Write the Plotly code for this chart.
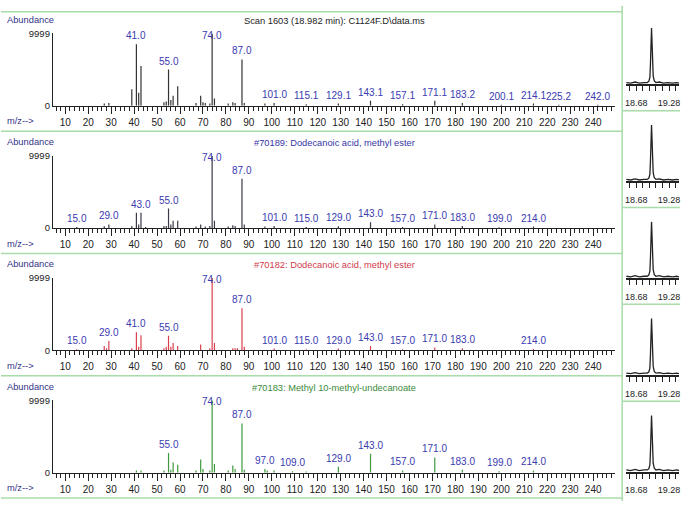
import plotly.graph_objects as go

W, H = 681, 506

# ---------------- data ----------------
# Panel 1: Scan 1603 (sample spectrum)
mz1 = [27, 29, 39, 41, 42, 43, 53, 54, 55, 56, 57, 59, 67, 69, 70, 71, 73, 74, 75, 81, 83, 84,
       87, 88, 97, 101, 115, 129, 143, 157, 171, 183, 200, 214, 225, 242]
ab1 = [300, 400, 2300, 8500, 1800, 5500, 500, 600, 5000, 800, 1400, 2700, 400, 1400, 500, 400, 300,
       9999, 1000, 300, 500, 400, 6400, 400, 300, 400, 200, 300, 700, 200, 700, 400, 150, 300, 150, 150]
lab1_mz = [41, 55, 74, 87, 101, 115, 129, 143, 157, 171, 183, 200, 214, 225, 242]
lab1_txt = ["41.0", "55.0", "74.0", "87.0", "101.0", "115.1", "129.1", "143.1", "157.1", "171.1",
            "183.2", "200.1", "214.1", "225.2", "242.0"]

# Panel 2: #70189 Dodecanoic acid, methyl ester
mz2 = [15, 27, 29, 39, 41, 42, 43, 45, 53, 54, 55, 56, 57, 59, 67, 69, 71, 73, 74, 75, 81, 83, 84,
       87, 88, 97, 101, 115, 129, 143, 157, 171, 183, 199, 214]
ab2 = [150, 250, 500, 300, 2100, 500, 2100, 150, 300, 300, 2700, 500, 1000, 1000, 200, 500, 200, 300,
       9999, 1000, 200, 400, 300, 6800, 500, 200, 300, 150, 250, 800, 150, 500, 300, 100, 200]
lab2_mz = [15, 29, 43, 55, 74, 87, 101, 115, 129, 143, 157, 171, 183, 199, 214]
lab2_txt = ["15.0", "29.0", "43.0", "55.0", "74.0", "87.0", "101.0", "115.0", "129.0", "143.0",
            "157.0", "171.0", "183.0", "199.0", "214.0"]

# Panel 3: #70182 Dodecanoic acid, methyl ester
mz3 = [15, 27, 28, 29, 39, 41, 42, 43, 53, 54, 55, 56, 57, 59, 69, 73, 74, 75, 83, 84, 85, 87, 88,
       101, 115, 129, 143, 157, 171, 183, 214]
ab3 = [150, 600, 300, 1300, 300, 2500, 500, 2100, 300, 500, 2000, 500, 1000, 600, 800, 300, 9999,
       1000, 300, 300, 300, 5800, 500, 250, 150, 250, 600, 150, 400, 300, 200]
lab3_mz = [15, 29, 41, 55, 74, 87, 101, 115, 129, 143, 157, 171, 183, 214]
lab3_txt = ["15.0", "29.0", "41.0", "55.0", "74.0", "87.0", "101.0", "115.0", "129.0", "143.0",
            "157.0", "171.0", "183.0", "214.0"]

# Panel 4: #70183 Methyl 10-methyl-undecanoate
mz4 = [41, 43, 53, 55, 56, 57, 59, 67, 69, 70, 73, 74, 75, 81, 83, 84, 87, 88, 97, 98, 101, 109,
       115, 129, 143, 157, 171, 183, 199, 214]
ab4 = [300, 300, 300, 2700, 400, 1400, 1100, 300, 1800, 500, 300, 9999, 1200, 300, 1000, 500, 6800,
       400, 500, 300, 300, 200, 150, 800, 2600, 300, 2100, 400, 200, 300]
lab4_mz = [55, 74, 87, 97, 109, 129, 143, 157, 171, 183, 199, 214]
lab4_txt = ["55.0", "74.0", "87.0", "97.0", "109.0", "129.0", "143.0", "157.0", "171.0", "183.0",
            "199.0", "214.0"]

titles = ["Scan 1603 (18.982 min): C1124F.D\\data.ms",
          "#70189: Dodecanoic acid, methyl ester",
          "#70182: Dodecanoic acid, methyl ester",
          "#70183: Methyl 10-methyl-undecanoate"]

# Chromatogram (ion trace) shown at the right of each row
chrom_t = [18.50, 18.58, 18.66, 18.74, 18.82, 18.88, 18.91, 18.93, 18.94, 18.95, 18.96, 18.97,
           18.98, 18.99, 19.01, 19.04, 19.10, 19.18, 19.26, 19.34, 19.42, 19.46]
chrom_i = [3, 2, 4, 2, 3, 3, 5, 12, 35, 75, 100, 72, 38, 15, 6, 3, 4, 2, 3, 2, 3, 2]
chrom_ticks = [18.56, 18.68, 18.80, 18.92, 19.04, 19.16, 19.28, 19.40]
chrom_ticktext = ["", "18.68", "", "", "", "", "19.28", ""]

# ---------------- styling ----------------
FONT = "Liberation Sans, Arial, sans-serif"
title_colors = ["#222222", "#3535a8", "#d03a4a", "#3a8a3a"]
bar_colors = ["#333333", "#3a3a4a", "#d8404e", "#3f9a3f"]
label_color = "#3a3ab0"
green = "#a8dca8"

panels = [(mz1, ab1, lab1_mz, lab1_txt), (mz2, ab2, lab2_mz, lab2_txt),
          (mz3, ab3, lab3_mz, lab3_txt), (mz4, ab4, lab4_mz, lab4_txt)]


def py(p):
    return 1 - p / H


fig = go.Figure()
layout = {}
annotations = []
shapes = []

for k, (mz, ab, lmz, ltxt) in enumerate(panels):
    n = k + 1
    xs, ys = [], []
    for m, a in zip(mz, ab):
        xs += [m, m, None]
        ys += [0, a, None]
    fig.add_trace(go.Scatter(x=xs, y=ys, mode="lines",
                             line=dict(color=bar_colors[k], width=1.2),
                             xaxis=f"x{n}", yaxis=f"y{n}",
                             hoverinfo="skip", showlegend=False))
    top = 28 + 125 * k
    bot = 102 + 125 * k
    layout[f"xaxis{n}"] = dict(
        domain=[52 / W, 616 / W], range=[4.6, 249.6], anchor=f"y{n}",
        tickmode="linear", tick0=0, dtick=10, ticks="outside", ticklen=7,
        tickcolor="#222", tickwidth=1,
        minor=dict(dtick=2, tick0=0, ticks="outside", ticklen=4, tickcolor="#222"),
        showline=True, linecolor="#222", linewidth=1, showgrid=False, zeroline=False,
        tickfont=dict(family=FONT, size=10, color="#222"), fixedrange=True)
    layout[f"yaxis{n}"] = dict(
        domain=[py(bot), py(top)], range=[0, 9999], anchor=f"x{n}",
        tickmode="array", tickvals=[0, 9999], ticktext=["0", "9999"], ticks="",
        showline=True, linecolor="#222", linewidth=1, showgrid=False, zeroline=False,
        tickfont=dict(family=FONT, size=9.5, color="#222"), fixedrange=True)
    abund = dict(zip(mz, ab))
    for m, t in zip(lmz, ltxt):
        yv = min(abund.get(m, 0), 8600)
        yv = max(yv, 150)
        annotations.append(dict(x=m, y=yv, xref=f"x{n}", yref=f"y{n}", text=t,
                                showarrow=False, yanchor="bottom", xanchor="center", yshift=1,
                                font=dict(family=FONT, size=10, color=label_color)))
    annotations.append(dict(x=(52 + 616) / 2 / W, y=py(15 + 125 * k), xref="paper", yref="paper",
                            text=titles[k], showarrow=False, xanchor="center", yanchor="middle",
                            font=dict(family=FONT, size=9.3, color=title_colors[k])))
    annotations.append(dict(x=4 / W, y=py(14 + 125 * k), xref="paper", yref="paper",
                            text="Abundance", showarrow=False, xanchor="left", yanchor="middle",
                            font=dict(family=FONT, size=9.3, color="#33338a")))
    annotations.append(dict(x=4 / W, y=py(118 + 125 * k), xref="paper", yref="paper",
                            text="m/z-->", showarrow=False, xanchor="left", yanchor="middle",
                            font=dict(family=FONT, size=9.3, color="#33338a")))
    shapes.append(dict(type="line", xref="paper", yref="paper", x0=0, x1=623 / W,
                       y0=py(128 + 125 * k), y1=py(128 + 125 * k),
                       line=dict(color=green, width=1.5)))

shapes.append(dict(type="line", xref="paper", yref="paper", x0=0, x1=623 / W,
                   y0=py(6), y1=py(6), line=dict(color=green, width=1.5)))
shapes.append(dict(type="line", xref="paper", yref="paper", x0=623 / W, x1=623 / W,
                   y0=0, y1=1, line=dict(color=green, width=1.5)))

# right-hand chromatogram panels
for j in range(5):
    n = 5 + j
    fig.add_trace(go.Scatter(x=chrom_t, y=chrom_i, mode="lines",
                             line=dict(color="#222", width=1.3),
                             xaxis=f"x{n}", yaxis=f"y{n}",
                             hoverinfo="skip", showlegend=False))
    top = 22 + 99 * j
    bot = 80 + 99 * j
    layout[f"xaxis{n}"] = dict(
        domain=[627 / W, 680 / W], range=[18.498, 19.46], anchor=f"y{n}",
        tickmode="array", tickvals=chrom_ticks, ticktext=chrom_ticktext,
        ticks="outside", ticklen=5, tickcolor="#222", ticklabelstandoff=4,
        ticklabeloverflow="allow",
        showline=True, linecolor="#222", linewidth=2, showgrid=False, zeroline=False,
        tickfont=dict(family=FONT, size=9, color="#222"), fixedrange=True)
    layout[f"yaxis{n}"] = dict(
        domain=[py(bot), py(top)], range=[0, 101], anchor=f"x{n}",
        showticklabels=False, ticks="", showline=False, showgrid=False, zeroline=False,
        fixedrange=True)
    if j > 0:
        ysep = 107 + 99 * (j - 1)
        shapes.append(dict(type="line", xref="paper", yref="paper", x0=623 / W, x1=1,
                           y0=py(ysep), y1=py(ysep), line=dict(color=green, width=1.5)))

fig.update_layout(width=W, height=H, margin=dict(l=0, r=0, t=0, b=0),
                  paper_bgcolor="white", plot_bgcolor="white",
                  annotations=annotations, shapes=shapes, showlegend=False, **layout)

fig.write_html("out.html", config={"displayModeBar": False},
               post_script="document.body.style.margin='0';document.body.style.padding='0';"
                           "document.body.style.overflow='hidden';")
